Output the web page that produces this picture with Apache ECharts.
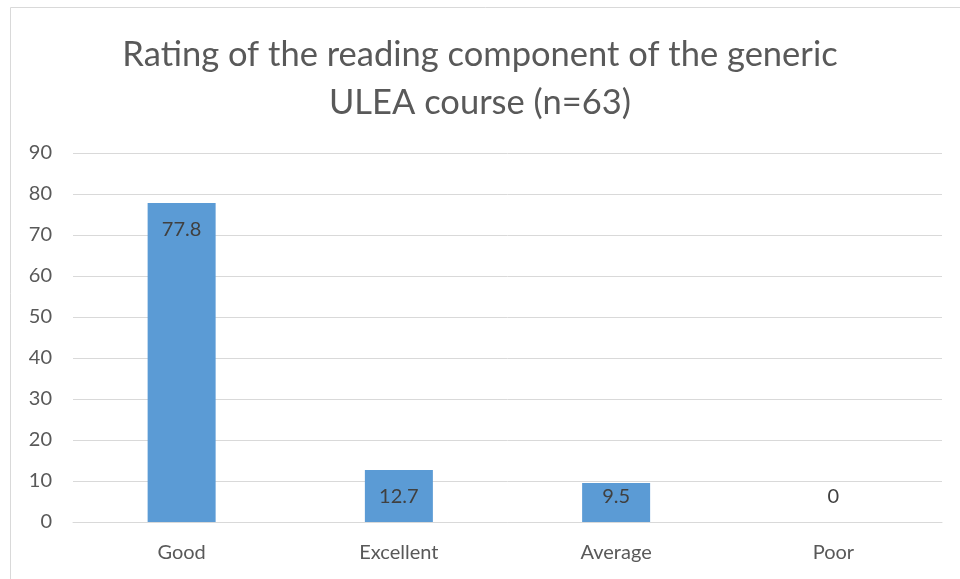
<!DOCTYPE html>
<html>
<head>
<meta charset="utf-8">
<script src="https://cdn.jsdelivr.net/npm/echarts@6/dist/echarts.min.js"></script>
<style>
    html, body { margin: 0; padding: 0; background: #fff; }
    #chart { width: 960px; height: 579px; }
</style>
</head>
<body>
<div id="chart"></div>
<script>
const categories = ["Good", "Excellent", "Average", "Poor"];
const ratings = [77.8, 12.7, 9.5, 0];
const yTicks = [0, 10, 20, 30, 40, 50, 60, 70, 80, 90];

const textColor = "#595959";
const font = "Lato, 'Open Sans', sans-serif";

let chart = echarts.init(document.getElementById("chart"));

// short bars get their label near the base, like the original
const barData = ratings.map(v => ({
    value: v,
    label: v >= 12
        ? { position: "insideTop", distance: 17 }
        : { position: "insideBottom", distance: 15 }
}));

const opts = {
    animation: false,
    title: {
        text: "Rating of the reading component of the generic\nULEA course (n=63)",
        left: "center",
        top: 26,
        textStyle: {
            fontFamily: font,
            fontSize: 34.5,
            fontWeight: "normal",
            color: textColor,
            lineHeight: 48,
        },
    },
    graphic: [{
        type: "rect",
        shape: { x: 10.5, y: 7.5, width: 980, height: 600 },
        style: { fill: null, stroke: "#d9d9d9", lineWidth: 1 },
        silent: true,
    }],
    grid: {
        left: 73,
        right: 18,
        top: 153,
        bottom: 57,
    },
    xAxis: {
        type: "category",
        data: categories,
        axisLine: { show: true, lineStyle: { color: "#d9d9d9" } },
        axisTick: { show: false },
        axisLabel: {
            fontFamily: font,
            fontSize: 20,
            color: textColor,
            margin: 21,
        },
    },
    yAxis: {
        type: "value",
        min: yTicks[0],
        max: yTicks[yTicks.length - 1],
        interval: 10,
        axisLine: { show: false },
        axisTick: { show: false },
        axisLabel: {
            fontFamily: font,
            fontSize: 20,
            color: textColor,
            margin: 21,
        },
        splitLine: {
            lineStyle: { color: "#d9d9d9", width: 1 },
        },
    },
    series: [{
        type: "bar",
        data: barData,
        barWidth: 68,
        itemStyle: { color: "#5b9bd5" },
        label: {
            show: true,
            fontFamily: font,
            fontSize: 20,
            color: "#404040",
        },
    }],
};
chart.setOption(opts);
</script>
</body>
</html>
